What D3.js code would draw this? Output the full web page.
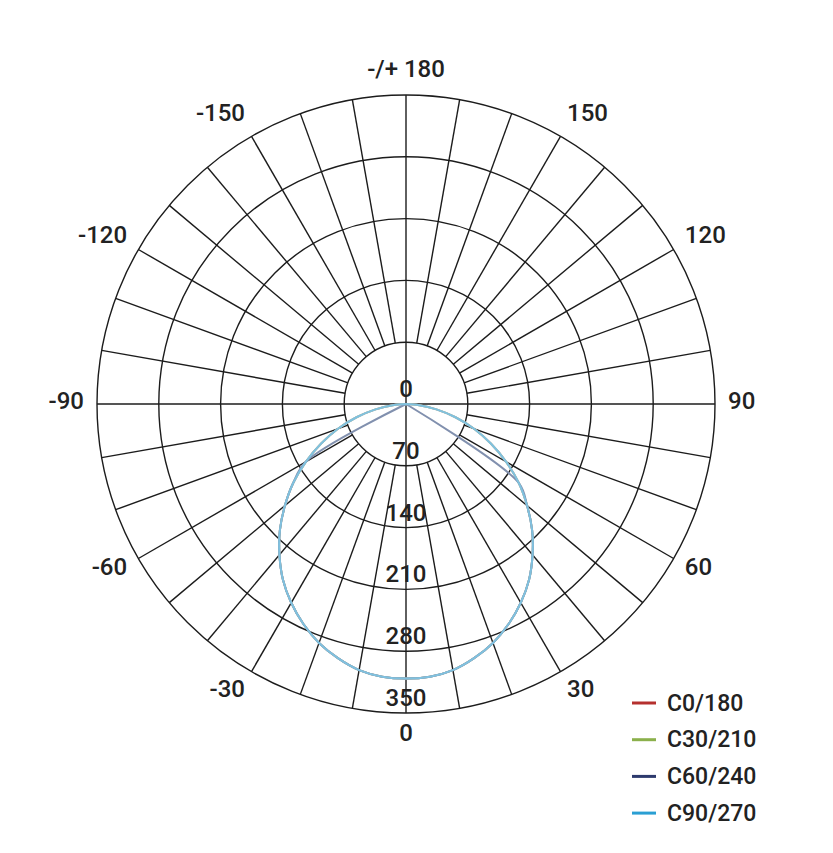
<!DOCTYPE html>
<html>
<head>
<meta charset="utf-8">
<script src="https://cdn.jsdelivr.net/npm/d3@7"></script>
<style>
  body { margin: 0; background: #fff; }
  text { font-family: Roboto, "DejaVu Sans", sans-serif; font-weight: 500; fill: #222; }
</style>
</head>
<body>
<div id="chart"></div>
<script>
// gamma angles (deg) and luminous intensity (cd) per C-plane half
const gammaAngles = [0, 5, 10, 15, 20, 25, 30, 35, 40, 45, 50, 55, 60, 65, 70, 75, 80, 85, 90];
const c0_180  = [311, 310, 306, 298, 288, 275, 260, 243, 223, 202, 179, 156, 131, 106, 82, 58, 35, 15, 0];
const c30_210 = [311, 310, 306, 298, 288, 275, 260, 243, 223, 202, 179, 156, 131, 106, 82, 58, 35, 15, 0];
const c60     = [311, 310, 306, 298, 288, 275, 260, 243, 223, 202, 179, 156, 0, 0, 0, 0, 0, 0, 0];
const c240    = [311, 310, 306, 298, 288, 275, 260, 243, 223, 202, 179, 156, 131, 0, 0, 0, 0, 0, 0];
const c90_270 = [311, 310, 306, 298, 288, 275, 260, 243, 223, 202, 179, 156, 131, 106, 82, 58, 35, 15, 0];

const seriesNames = ["C0/180", "C30/210", "C60/240", "C90/270"];
const seriesColors = ["#b5302e", "#8bb04b", "#2d3a6d", "#2a9fd3"];
// [right half, left half] for each series
const seriesData = [[c0_180, c0_180], [c30_210, c30_210], [c60, c240], [c90_270, c90_270]];

const ringValues = [70, 140, 210, 280, 350];
const ringLabels = [0, 70, 140, 210, 280, 350];
const angleLabels = [0, 30, 60, 90, 120, 150, 180, -150, -120, -90, -60, -30];

const width = 833, height = 853;
const cx = 406, cy = 404, R = 309;

const svg = d3.select("#chart").append("svg")
  .attr("width", width)
  .attr("height", height);

svg.append("rect").attr("width", width).attr("height", height).attr("fill", "#fff");

const g = svg.append("g").attr("transform", `translate(${cx},${cy})`);

const rScale = d3.scaleLinear().domain([0, 350]).range([0, R]);
const rad = a => a * Math.PI / 180;

// rings
g.selectAll(".ring")
  .data(ringValues)
  .enter()
  .append("circle")
  .attr("r", d => rScale(d))
  .attr("fill", "none")
  .attr("stroke", "#1c1c1c")
  .attr("stroke-width", 1.4);

// spokes every 10 deg, main axes go through the centre
const spokes = d3.range(0, 360, 10);
g.selectAll(".spoke")
  .data(spokes)
  .enter()
  .append("line")
  .attr("x1", d => (d % 90 === 0 ? 0 : rScale(70)) * Math.sin(rad(d)))
  .attr("y1", d => (d % 90 === 0 ? 0 : rScale(70)) * Math.cos(rad(d)))
  .attr("x2", d => R * Math.sin(rad(d)))
  .attr("y2", d => R * Math.cos(rad(d)))
  .attr("stroke", "#1c1c1c")
  .attr("stroke-width", 1.4);

// angle labels: right side starts at the point, left side ends at it
g.selectAll(".alabel")
  .data(angleLabels)
  .enter()
  .append("text")
  .attr("text-anchor", d => d === 0 || d === 180 ? "middle" : d > 0 ? "start" : "end")
  .attr("dominant-baseline", "central")
  .attr("x", d => 322 * Math.sin(rad(d)))
  .attr("y", d => 332 * Math.cos(rad(d)) - 3)
  .style("font-size", "24px")
  .text(d => d === 180 ? "-/+ 180" : d);

// curves
const line = d3.lineRadial()
  .curve(d3.curveCatmullRom.alpha(0.5))
  .angle(d => Math.PI - rad(d.g))
  .radius(d => rScale(d.v));

seriesData.forEach((s, i) => {
  const right = s[0].map((v, j) => ({ g: gammaAngles[j], v: v }));
  const left = s[1].map((v, j) => ({ g: -gammaAngles[j], v: v })).reverse();
  const pts = left.concat(right.slice(1));
  g.append("path")
    .datum(pts)
    .attr("d", line)
    .attr("fill", "none")
    .attr("stroke", d3.interpolateRgb(seriesColors[i], "#cfe0ea")(0.52))
    .attr("stroke-width", 2)
    .attr("stroke-linejoin", "round");
});

// ring value labels on the vertical axis
g.selectAll(".rlabel")
  .data(ringLabels)
  .enter()
  .append("text")
  .attr("text-anchor", "middle")
  .attr("dominant-baseline", "central")
  .attr("x", 0)
  .attr("y", d => rScale(d) - 15)
  .style("font-size", "24px")
  .text(d => d);

// legend
const legend = svg.append("g").attr("transform", "translate(632,703)");
seriesNames.forEach((name, i) => {
  const row = legend.append("g").attr("transform", `translate(0,${i * 36.7})`);
  row.append("line")
    .attr("x1", 0).attr("x2", 24)
    .attr("y1", 0).attr("y2", 0)
    .attr("stroke", seriesColors[i])
    .attr("stroke-width", 3);
  row.append("text")
    .attr("x", 35)
    .attr("y", 0)
    .attr("dominant-baseline", "central")
    .style("font-size", "23px")
    .text(name);
});
</script>
</body>
</html>
